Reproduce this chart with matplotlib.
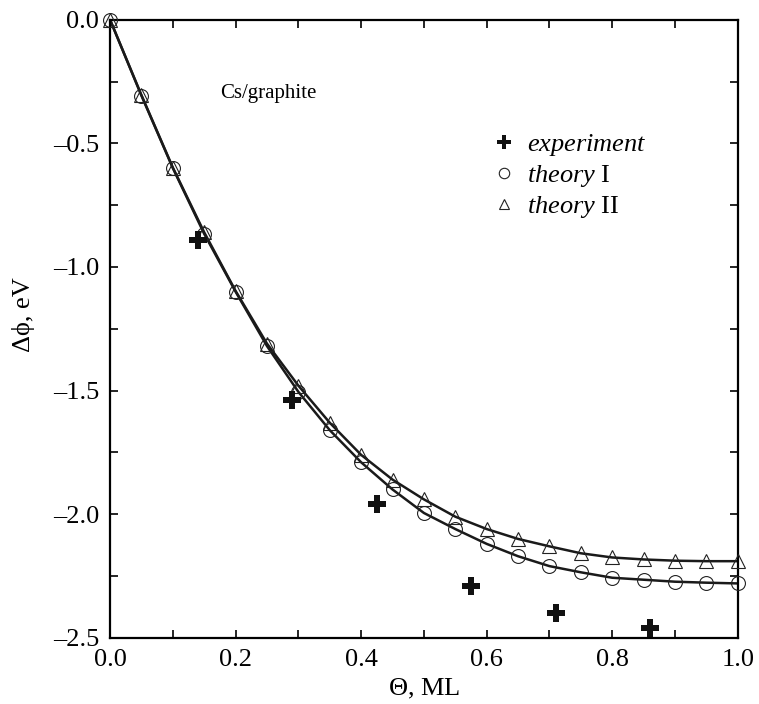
import matplotlib
matplotlib.use('Agg')
import matplotlib.pyplot as plt
from matplotlib.ticker import MultipleLocator

plt.rcParams['font.family'] = ['Liberation Serif', 'DejaVu Serif']
plt.rcParams['mathtext.fontset'] = 'custom'
plt.rcParams['mathtext.rm'] = 'Liberation Serif'
plt.rcParams['mathtext.it'] = 'Liberation Serif:italic'

# coverage grid for the theory curves
theta = [0.0, 0.05, 0.10, 0.15, 0.20, 0.25, 0.30, 0.35, 0.40, 0.45, 0.50,
         0.55, 0.60, 0.65, 0.70, 0.75, 0.80, 0.85, 0.90, 0.95, 1.0]
theory1 = [0.0, -0.307, -0.600, -0.866, -1.100, -1.320, -1.505, -1.660, -1.790,
           -1.900, -1.995, -2.060, -2.120, -2.170, -2.210, -2.235, -2.257,
           -2.265, -2.273, -2.277, -2.280]
theory2 = [0.0, -0.305, -0.598, -0.860, -1.097, -1.310, -1.480, -1.630, -1.760,
           -1.860, -1.940, -2.010, -2.060, -2.100, -2.130, -2.158, -2.175,
           -2.183, -2.188, -2.190, -2.190]

exp_theta = [0.14, 0.29, 0.425, 0.575, 0.71, 0.86]
exp_phi = [-0.89, -1.54, -1.96, -2.29, -2.40, -2.46]

fig = plt.figure(figsize=(7.59, 7.04), dpi=100)
ax = fig.add_axes([0.145, 0.094, 0.827, 0.878])

ax.plot(theta, theory1, '-', color='#1a1a1a', lw=1.8, zorder=2)
ax.plot(theta, theory2, '-', color='#1a1a1a', lw=1.8, zorder=2)
ax.plot(theta, theory1, 'o', mfc='none', mec='#222222', mew=0.8, ms=10,
        label=r'$\mathit{theory}$ I', zorder=3, clip_on=False)
ax.plot(theta, theory2, '^', mfc='none', mec='#222222', mew=0.8, ms=10,
        label=r'$\mathit{theory}$ II', zorder=3, clip_on=False)
ax.plot(exp_theta, exp_phi, 'P', color='#111111', ms=12.5, mew=0,
        label=r'$\mathit{experiment}$', zorder=4)

ax.set_xlim(0, 1)
ax.set_ylim(-2.5, 0)
ax.xaxis.set_major_locator(MultipleLocator(0.2))
ax.xaxis.set_minor_locator(MultipleLocator(0.1))
ax.yaxis.set_major_locator(MultipleLocator(0.5))
ax.yaxis.set_minor_locator(MultipleLocator(0.25))
ax.xaxis.set_major_formatter(matplotlib.ticker.FormatStrFormatter('%.1f'))
ax.yaxis.set_major_formatter(matplotlib.ticker.FuncFormatter(
    lambda v, p: ('%.1f' % v).replace('-', '\u2013')))
ax.tick_params(which='both', direction='in', top=True, right=True,
               width=1.2, labelsize=19, pad=8, length=6)
for s in ax.spines.values():
    s.set_linewidth(1.6)

ax.text(0.252, -0.30, 'Cs/graphite', fontsize=15, ha='center', va='center')

handles, labels = ax.get_legend_handles_labels()
order = [2, 0, 1]
ax.legend([handles[i] for i in order], [labels[i] for i in order],
          loc='upper left', bbox_to_anchor=(0.565, 0.857), frameon=False,
          fontsize=19, handletextpad=0.25, handlelength=1.2,
          labelspacing=0.2, markerscale=0.75)

ax.set_xlabel(r'$\Theta$, ML', fontsize=19, labelpad=4)
fig.text(0.031, 0.553, '\u0394\u03d5, eV', fontsize=19, rotation=90,
         ha='center', va='center')

fig.savefig('out.png', dpi=100)
